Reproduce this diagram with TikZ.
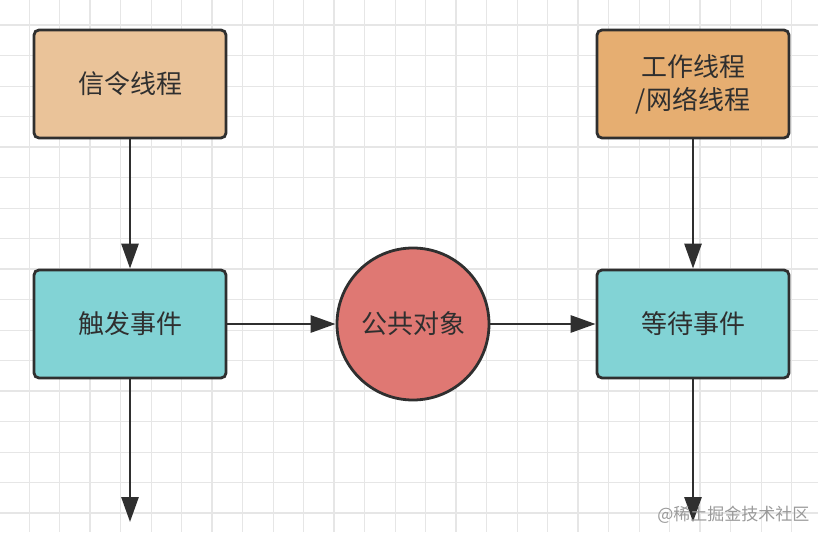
\documentclass[tikz,border=0pt]{standalone}
\usepackage{fontspec}
\setmainfont{Noto Sans CJK SC}
\usetikzlibrary{arrows, arrows.meta}
\usetikzlibrary{calc}

\definecolor{gridline}{HTML}{E6E6E6}
\definecolor{edgecol}{HTML}{2F2F2F}
\definecolor{signalfill}{HTML}{EAC399}
\definecolor{workerfill}{HTML}{E6AE71}
\definecolor{eventfill}{HTML}{82D3D5}
\definecolor{sharedfill}{HTML}{DF7873}
\definecolor{markgray}{HTML}{9A9A9A}

\begin{document}
\begin{tikzpicture}[x=1pt, y=-1pt,
    box/.style={rectangle, rounded corners=5pt, draw=edgecol, line width=2.8pt,
      minimum width=192pt, minimum height=108pt, align=center, text=edgecol,
      font=\fontsize{26}{33}\selectfont},
    blob/.style={circle, draw=edgecol, line width=2.8pt, minimum size=152pt,
      inner sep=0pt, text=edgecol, font=\fontsize{26}{33}\selectfont},
    flow/.style={draw=edgecol, line width=2.8pt, -{Triangle[length=25pt, width=17pt]}}]
      \useasboundingbox (0,0) rectangle (818,532);
      \fill[white] (0,0) rectangle (818,532);

      % background grid
      \foreach \k in {-2,...,24} {
        \pgfmathtruncatemacro{\major}{mod(\k+8,4)==0}
        \ifnum\major=1
          \draw[gridline, line width=1.6pt] ({90+\k*30.5},0) -- ({90+\k*30.5},532);
          \draw[gridline, line width=1.6pt] (0,{25+\k*30.5}) -- (818,{25+\k*30.5});
        \else
          \draw[gridline, line width=0.9pt] ({90+\k*30.5},0) -- ({90+\k*30.5},532);
          \draw[gridline, line width=0.9pt] (0,{25+\k*30.5}) -- (818,{25+\k*30.5});
        \fi
      }

      \node[box, fill=signalfill] (signal) at (130,84) {信令线程};
      \node[box, fill=workerfill] (worker) at (693,84) {工作线程\\/网络线程};
      \node[box, fill=eventfill] (trigger) at (130,324) {触发事件};
      \node[box, fill=eventfill] (wait) at (693,324) {等待事件};
      \node[blob, fill=sharedfill] (shared) at (413,324) {公共对象};

      \coordinate (trigout) at (130,522);
      \coordinate (waitout) at (693,522);

      \draw[flow] (signal) -- (trigger);
      \draw[flow] (worker) -- (wait);
      \draw[flow] (trigger) -- (shared);
      \draw[flow] (shared) -- (wait);
      \draw[flow] (trigger) -- (trigout);
      \draw[flow] (wait) -- (waitout);

      \node[text=markgray, font=\fontsize{17}{20}\selectfont, anchor=east] (mark) at (813,515) {@稀土掘金技术社区};
    \end{tikzpicture}
\end{document}
